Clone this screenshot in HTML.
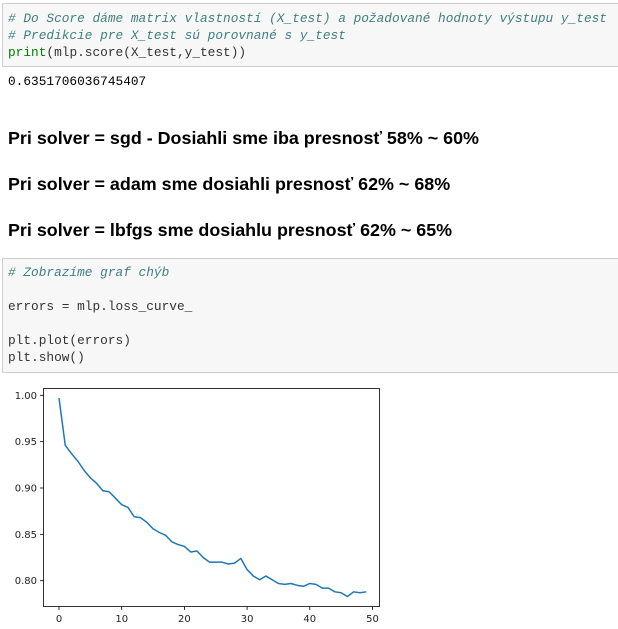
<!DOCTYPE html>
<html><head><meta charset="utf-8"><style>
body{margin:0;width:618px;height:629px;background:#fff;position:relative;overflow:hidden;font-family:"Liberation Sans",sans-serif}
.cell{position:absolute;left:2px;width:620px;background:#f7f7f7;border:1px solid #cfcfcf;box-sizing:border-box}
.code{position:absolute;left:8px;font-family:"Liberation Mono","DejaVu Sans Mono",monospace;font-size:12.8px;line-height:17px;white-space:pre;color:#333}
.cm{color:#408080;font-style:italic}
.bi{color:#008000}
h3{position:absolute;left:8px;margin:0;font-size:17.9px;font-weight:bold;color:#000;white-space:nowrap;line-height:22px}
</style></head><body>
<div class="cell" style="top:3px;height:64px"></div>
<div class="code" style="top:10px"><span class="cm"># Do Score dáme matrix vlastností (X_test) a požadované hodnoty výstupu y_test</span>
<span class="cm"># Predikcie pre X_test sú porovnané s y_test</span>
<span class="bi">print</span>(mlp.score(X_test,y_test))</div>
<div class="code" style="top:73px;color:#000">0.6351706036745407</div>
<h3 style="top:127px">Pri solver = sgd - Dosiahli sme iba presnosť 58% ~ 60%</h3>
<h3 style="top:173px">Pri solver = adam sme dosiahli presnosť 62% ~ 68%</h3>
<h3 style="top:219px">Pri solver = lbfgs sme dosiahlu presnosť 62% ~ 65%</h3>
<div class="cell" style="top:258px;height:115px"></div>
<div class="code" style="top:264px"><span class="cm"># Zobrazíme graf chýb</span>

errors = mlp.loss_curve_

plt.plot(errors)
plt.show()</div>
<svg id="chart" width="618" height="629" style="position:absolute;left:0;top:0"></svg>
<script>
const epochs=[0,1,2,3,4,5,6,7,8,9,10,11,12,13,14,15,16,17,18,19,20,21,22,23,24,25,26,27,28,29,30,31,32,33,34,35,36,37,38,39,40,41,42,43,44,45,46,47,48,49];
const losses=[0.997,0.946,0.937,0.929,0.919,0.911,0.905,0.897,0.896,0.889,0.882,0.879,0.869,0.868,0.863,0.856,0.852,0.849,0.842,0.839,0.837,0.831,0.832,0.825,0.820,0.820,0.820,0.818,0.819,0.824,0.812,0.805,0.801,0.805,0.801,0.797,0.796,0.797,0.795,0.794,0.797,0.796,0.792,0.792,0.788,0.787,0.783,0.788,0.787,0.788];
const xTicks=[0,10,20,30,40,50];
const yTicks=[0.80,0.85,0.90,0.95,1.00];
const yTickLabels=["0.80","0.85","0.90","0.95","1.00"];
const NS="http://www.w3.org/2000/svg";
const svg=document.getElementById('chart');
const X=v=>59+v*6.27;
const Y=v=>395.3+(1-v)/0.05*46.35;
function mk(t,a){const e=document.createElementNS(NS,t);for(const k in a)e.setAttribute(k,a[k]);svg.appendChild(e);return e;}
const frame=mk('rect',{x:43.5,y:388.5,width:336,height:218,fill:'none',stroke:'#000','stroke-width':0.8});


xTicks.forEach(t=>{
  const l=mk('line',{x1:X(t),x2:X(t),y1:606.5,y2:610,stroke:'#000','stroke-width':0.8});
  
  
  const tx=mk('text',{x:X(t),y:622,'text-anchor':'middle','font-size':10,'font-family':'DejaVu Sans, sans-serif',fill:'#222'});
  tx.textContent=t;
  
  
});
yTicks.forEach((t,i)=>{
  const l=mk('line',{x1:40,x2:43.5,y1:Y(t),y2:Y(t),stroke:'#000','stroke-width':0.8});
  
  
  const tx=mk('text',{x:37,y:Y(t)+3.5,'text-anchor':'end','font-size':10,'font-family':'DejaVu Sans, sans-serif',fill:'#222'});
  tx.textContent=yTickLabels[i];
  
  
});
const pts=epochs.map((e,i)=>X(e).toFixed(2)+','+Y(losses[i]).toFixed(2)).join(' ');
const line=mk('polyline',{points:pts,fill:'none',stroke:'#1f77b4','stroke-width':1.5,'stroke-linejoin':'round'});


</script>
</body></html>
